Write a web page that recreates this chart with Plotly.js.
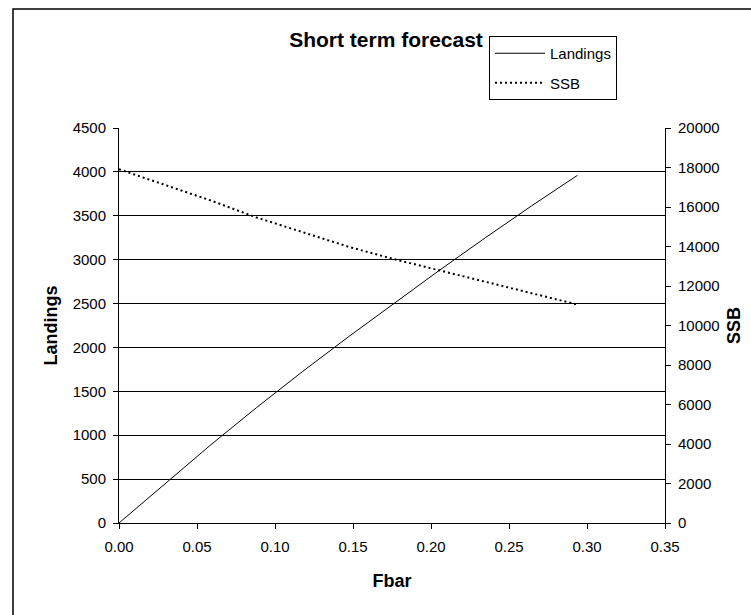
<!DOCTYPE html>
<html>
<head>
<meta charset="utf-8">
<script src="https://cdn.plot.ly/plotly-3.0.1.min.js"></script>
<style>
  html, body { margin: 0; padding: 0; background: #ffffff; overflow: hidden; }
  #chart { width: 751px; height: 615px; }
</style>
</head>
<body>
<div id="chart"></div>
<script>
// Data
const fbar = [0, 0.0294, 0.0588, 0.0882, 0.1176, 0.1470, 0.1763, 0.2057, 0.2351, 0.2645, 0.2939];
const landings = [0, 450, 890, 1315, 1725, 2120, 2505, 2883, 3253, 3613, 3961];
const ssb = [17910, 17130, 16330, 15470, 14710, 13990, 13360, 12780, 12190, 11610, 11060];
const seriesNames = ['Landings', 'SSB'];
const xTitle = 'Fbar';
const yTitle = 'Landings';
const y2Title = 'SSB';
const chartTitle = 'Short term forecast';

const FONT = 'Arial, "Liberation Sans", Helvetica, sans-serif';

const traces = [
  {
    x: fbar, y: landings, name: seriesNames[0], type: 'scatter', mode: 'lines',
    line: { color: '#000000', width: 1 }, legendgroup: 'a', yaxis: 'y'
  },
  {
    x: fbar, y: ssb, name: seriesNames[1], type: 'scatter', mode: 'lines',
    line: { color: '#000000', width: 2, dash: '2px,3px' }, legendgroup: 'b', yaxis: 'y2'
  }
];

const layout = {
  width: 751, height: 615,
  margin: { l: 119, r: 86, t: 128, b: 92, pad: 0 },
  paper_bgcolor: 'rgba(0,0,0,0)',
  plot_bgcolor: 'rgba(0,0,0,0)',
  font: { family: FONT, size: 15, color: '#000000' },
  showlegend: true,
  title: {
    text: chartTitle,
    font: { family: FONT, size: 21, weight: 'bold', color: '#000000' },
    xref: 'container', x: 386 / 751, xanchor: 'center',
    yref: 'container', y: 1 - 40 / 615, yanchor: 'middle'
  },
  legend: {
    x: (489 - 119) / 546, y: (523 - 36) / 395, xanchor: 'left', yanchor: 'top',
    bgcolor: '#ffffff', bordercolor: '#000000', borderwidth: 1,
    font: { family: FONT, size: 15, color: '#000000' },
    traceorder: 'grouped', tracegroupgap: 7, itemwidth: 50
  },
  xaxis: {
    range: [0, 0.35], dtick: 0.05, tick0: 0, tickformat: '.2f',
    showgrid: false, zeroline: false,
    showline: true, linecolor: '#000000', linewidth: 1,
    ticks: 'outside', ticklen: 5, tickcolor: '#000000', tickwidth: 1,
    ticklabelstandoff: 5,
    tickfont: { family: FONT, size: 15, color: '#000000' },
    title: { text: xTitle, font: { family: FONT, size: 18, weight: 'bold' }, standoff: 20 },
    automargin: false, fixedrange: true
  },
  yaxis: {
    range: [0, 4500], dtick: 500, tick0: 0,
    showgrid: true, gridcolor: '#000000', gridwidth: 1,
    zeroline: false,
    showline: true, linecolor: '#000000', linewidth: 1,
    ticks: 'outside', ticklen: 5, tickcolor: '#000000', tickwidth: 1,
    ticklabelstandoff: 4,
    tickfont: { family: FONT, size: 15, color: '#000000' },
    title: { text: yTitle, font: { family: FONT, size: 18, weight: 'bold' }, standoff: 10 },
    automargin: false, fixedrange: true
  },
  yaxis2: {
    range: [0, 20000], dtick: 2000, tick0: 0, tickformat: 'd',
    overlaying: 'y', side: 'right', anchor: 'x',
    showgrid: false, zeroline: false,
    showline: true, linecolor: '#000000', linewidth: 1,
    ticks: 'outside', ticklen: 5, tickcolor: '#000000', tickwidth: 1,
    ticklabelstandoff: 4,
    tickfont: { family: FONT, size: 15, color: '#000000' },
    title: { text: y2Title, font: { family: FONT, size: 18, weight: 'bold' }, standoff: 8 },
    automargin: false, fixedrange: true
  },
  yaxis3: {
    range: [0, 20000], dtick: 2000, tick0: 0,
    overlaying: 'y', side: 'right', anchor: 'x',
    showgrid: false, zeroline: false, showline: false,
    ticks: 'inside', ticklen: 5, tickcolor: '#000000', tickwidth: 1,
    showticklabels: false, automargin: false, fixedrange: true
  },
  shapes: [
    {
      type: 'rect', xref: 'paper', yref: 'paper', layer: 'below',
      x0: (13 - 119) / 546, x1: 2, y0: -1, y1: (523 - 9) / 395,
      line: { color: '#000000', width: 1.5 }, fillcolor: 'rgba(0,0,0,0)'
    }
  ]
};

Plotly.newPlot('chart', traces, layout, { displayModeBar: false, staticPlot: true });
</script>
</body>
</html>
